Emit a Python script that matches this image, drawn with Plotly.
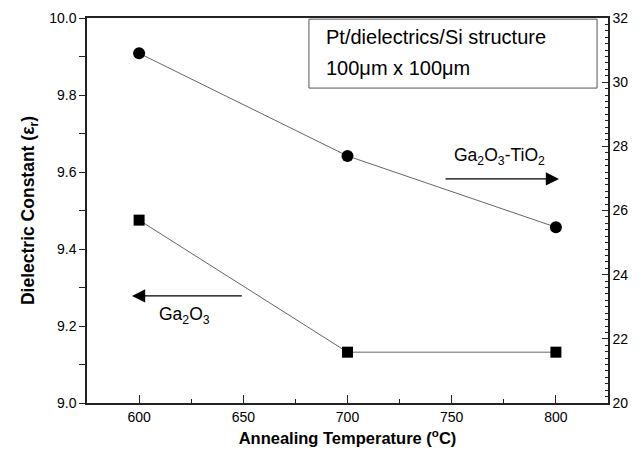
import plotly.graph_objects as go

temps = [600, 700, 800]
ga2o3 = [9.475, 9.132, 9.132]          # left axis (dielectric constant)
ga2o3_tio2 = [30.9, 27.7, 25.48]       # right axis

FONT = "Arial, Liberation Sans, sans-serif"

fig = go.Figure()
fig.add_trace(go.Scatter(
    x=temps, y=ga2o3, mode="lines+markers", name="Ga2O3",
    line=dict(color="#666666", width=1),
    marker=dict(symbol="square", size=11, color="black"),
    yaxis="y"))
fig.add_trace(go.Scatter(
    x=temps, y=ga2o3_tio2, mode="lines+markers", name="Ga2O3-TiO2",
    line=dict(color="#666666", width=1),
    marker=dict(symbol="circle", size=12, color="black"),
    yaxis="y2"))

axis_color = "#222222"
fig.update_layout(
    width=644, height=453,
    margin=dict(l=87, r=36, t=18, b=50),
    paper_bgcolor="white", plot_bgcolor="white",
    showlegend=False,
    font=dict(family=FONT, color="black", size=14),
    xaxis=dict(
        range=[575, 825], dtick=50, tick0=600,
        showgrid=False, zeroline=False, automargin=False,
        showline=True, linecolor=axis_color, linewidth=1.5, mirror=True,
        ticks="inside", ticklen=8, tickcolor=axis_color, tickwidth=1,
        minor=dict(dtick=25, ticks="inside", ticklen=4, tickcolor=axis_color),
        tickfont=dict(size=14),
        title=dict(text="<b>Annealing Temperature (<sup>o</sup>C)</b>",
                   font=dict(size=16.5), standoff=9),
    ),
    yaxis=dict(
        range=[9.0, 10.0], dtick=0.2, tickformat=".1f",
        showgrid=False, zeroline=False, automargin=False,
        showline=True, linecolor=axis_color, linewidth=1.5,
        ticks="outside", ticklen=6, tickcolor=axis_color, tickwidth=1,
        minor=dict(dtick=0.1, ticks="outside", ticklen=6, tickcolor=axis_color),
        tickfont=dict(size=14),
        title=dict(text="<b>Dielectric Constant (ε<sub>r</sub>)</b>",
                   font=dict(size=17.5), standoff=10),
    ),
    yaxis2=dict(
        range=[20, 32], dtick=2, overlaying="y", side="right",
        showgrid=False, zeroline=False, automargin=False,
        showline=True, linecolor=axis_color, linewidth=1.5,
        ticks="inside", ticklen=6, tickcolor=axis_color, tickwidth=1,
        minor=dict(dtick=0.2, ticks="inside", ticklen=3, tickcolor=axis_color),
        tickfont=dict(size=14),
    ),
)

# Info box
fig.add_shape(type="rect", xref="paper", yref="paper",
              x0=0.426, x1=0.979, y0=0.818, y1=0.997,
              line=dict(color="#555555", width=1), fillcolor="white")
fig.add_annotation(xref="paper", yref="paper", x=0.455, y=0.950,
                   xanchor="left", yanchor="middle", showarrow=False,
                   text="Pt/dielectrics/Si structure", font=dict(size=20))
fig.add_annotation(xref="paper", yref="paper", x=0.455, y=0.869,
                   xanchor="left", yanchor="middle", showarrow=False,
                   text="100μm x 100μm", font=dict(size=20))

# Arrows indicating axes
fig.add_annotation(x=801.5, y=9.582, ax=746.3, ay=9.582,
                   xref="x", yref="y", axref="x", ayref="y",
                   showarrow=True, arrowhead=2, arrowsize=2.2, arrowwidth=1.2,
                   arrowcolor="black", text="")
fig.add_annotation(x=773, y=9.64, xref="x", yref="y", showarrow=False,
                   text="Ga<sub>2</sub>O<sub>3</sub>-TiO<sub>2</sub>", font=dict(size=17.5))
fig.add_annotation(x=596.6, y=9.278, ax=650, ay=9.278,
                   xref="x", yref="y", axref="x", ayref="y",
                   showarrow=True, arrowhead=2, arrowsize=2.2, arrowwidth=1.2,
                   arrowcolor="black", text="")
fig.add_annotation(x=622, y=9.226, xref="x", yref="y", showarrow=False,
                   text="Ga<sub>2</sub>O<sub>3</sub>", font=dict(size=17.5))

fig.write_html("out.html")
